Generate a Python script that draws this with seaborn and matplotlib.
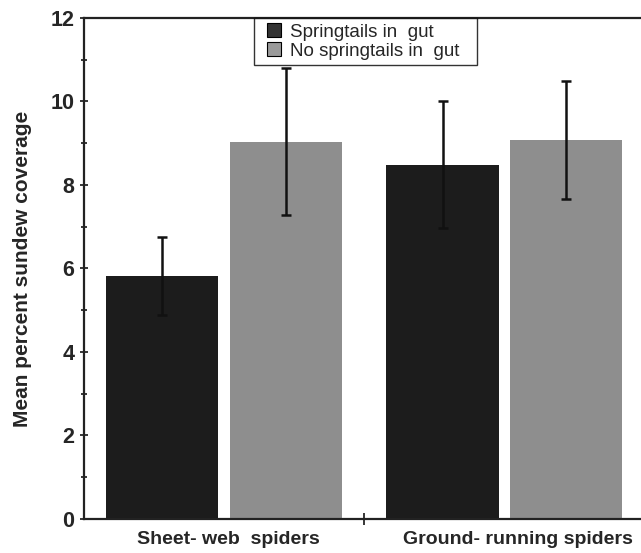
import pandas as pd
import numpy as np
import matplotlib
matplotlib.use('Agg')
import matplotlib.pyplot as plt
import matplotlib.transforms as mtransforms
from matplotlib.lines import Line2D
import seaborn as sns

# values
groups = ['Sheet- web  spiders', 'Ground- running spiders']
gut_labels = ['Springtails in  gut', 'No springtails in  gut']
with_springtails = [5.82, 8.48]
without_springtails = [9.04, 9.08]
err_with = [0.93, 1.52]
err_without = [1.77, 1.42]

bar_colors = ['#1c1c1c', '#8e8e8e']
legend_colors = ['#333333', '#9a9a9a']

sns.set_style('ticks')
plt.rcParams['font.family'] = ['Liberation Sans', 'DejaVu Sans']

df = pd.DataFrame({
    'group': groups * 2,
    'gut': [gut_labels[0]] * 2 + [gut_labels[1]] * 2,
    'coverage': with_springtails + without_springtails,
    'err': err_with + err_without,
})

fig = plt.figure(figsize=(6.41, 5.53), dpi=100)
ax = fig.add_axes([0.131, 0.0615, 0.874, 0.906])

sns.barplot(data=df, x='group', y='coverage', hue='gut', palette=bar_colors,
            width=0.88, gap=0.09, errorbar=None, legend=False,
            saturation=1, linewidth=0, ax=ax)

# error bars on the bar centres
bars = sorted(ax.patches, key=lambda p: p.get_x())
errs = [df.loc[(df.group == g) & (df.gut == h), 'err'].values[0]
        for g in groups for h in gut_labels]
for p, e in zip(bars, errs):
    xc = p.get_x() + p.get_width() / 2
    ax.errorbar(xc, p.get_height(), yerr=e, fmt='none', ecolor='#111111',
                elinewidth=1.8, capsize=3.6, capthick=1.8)

ax.set_xlim(-0.5, 1.5)
ax.set_ylim(0, 12)
ax.set_yticks(np.arange(0, 13, 2))
ax.set_yticks(np.arange(1, 12, 2), minor=True)
ax.tick_params(axis='y', which='major', direction='inout', length=6, width=1.3,
               labelsize=15.5, pad=4)
ax.tick_params(axis='y', which='minor', direction='inout', length=4, width=1.3)
for lab in ax.get_yticklabels():
    lab.set_fontweight('bold')

ax.set_xticks([0, 1])
ax.set_xticklabels(groups, fontsize=14, fontweight='bold')
ax.tick_params(axis='x', which='major', length=0, pad=9)
ax.set_xticks([0.5], minor=True)
ax.tick_params(axis='x', which='minor', direction='inout', length=8, width=1.3)

# the labels in the original sit a little right of the group centres
for lab, dx in zip(ax.get_xticklabels(), [4, 14]):
    lab.set_transform(lab.get_transform() +
                      mtransforms.ScaledTranslation(dx / 100, 0, fig.dpi_scale_trans))

ax.set_xlabel('')
ax.set_ylabel('Mean percent sundew coverage', fontsize=15, fontweight='bold',
              labelpad=13)

for side in ['left', 'bottom', 'top']:
    ax.spines[side].set_linewidth(1.6)
    ax.spines[side].set_color('#222222')
ax.spines['right'].set_visible(False)

handles = [Line2D([], [], linestyle='none', marker='s', markersize=10.5,
                  markerfacecolor=c, markeredgecolor='black', markeredgewidth=0.8)
           for c in legend_colors]
leg = ax.legend(handles, gut_labels, loc='upper left',
                bbox_to_anchor=(0.3036, 0.0, 0.398, 1.0), mode='expand',
                borderaxespad=0, frameon=True, fancybox=False, fontsize=13.5,
                handlelength=1.5, handletextpad=0.1,
                labelspacing=0.1, borderpad=0.3)
leg.get_frame().set_edgecolor('black')
leg.get_frame().set_linewidth(1.0)

fig.savefig('out.png', dpi=100)
